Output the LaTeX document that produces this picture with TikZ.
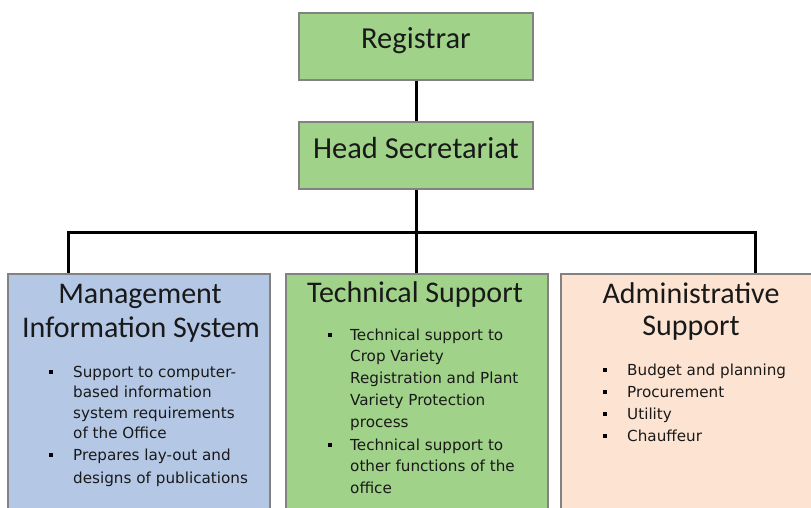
\documentclass[tikz,border=0pt]{standalone}
\usepackage{fontspec}
\newfontfamily\titlefont{Carlito}
\newfontfamily\bodyfont{DejaVu Sans}
\definecolor{boxgreen}{RGB}{160,210,138}
\definecolor{boxblue}{RGB}{180,200,230}
\definecolor{boxpeach}{RGB}{253,228,210}
\definecolor{boxedge}{RGB}{130,130,130}
\definecolor{inktext}{RGB}{25,25,25}
\tikzset{
  orgbox/.style={draw=boxedge, line width=1.3pt, minimum width=234pt, minimum height=67pt, inner sep=0pt},
  unitbox/.style={draw=boxedge, line width=1.3pt, minimum width=262pt, minimum height=250pt, inner sep=0pt},
  ttl/.style={font=\titlefont\fontsize{30}{34}\selectfont, text=inktext, inner sep=0pt, anchor=base},
  itemtext/.style={font=\bodyfont\fontsize{15.2}{21.5}\selectfont, text=inktext, inner sep=0pt, anchor=base west, align=left},
  bul/.style={fill=black, minimum size=4.8pt, inner sep=0pt},
  link/.style={line width=3pt, black}
}
\begin{document}
\begin{tikzpicture}[x=1pt,y=-1pt]
\useasboundingbox (0,0) rectangle (811,508);
\clip (0,0) rectangle (811,508);
\fill[white] (0,0) rectangle (811,508);
% top boxes
\node[orgbox, fill=boxgreen] (reg) at (416,46.5) {};
\node[orgbox, fill=boxgreen] (head) at (416,155.5) {};
\node[ttl, font=\titlefont\fontsize{30.5}{34}\selectfont] (regt) at (416,49) {Registrar};
\node[ttl, font=\titlefont\fontsize{30.5}{34}\selectfont] (headt) at (416,158) {Head Secretariat};
% unit boxes
\node[unitbox, fill=boxblue] (mis) at (139,399) {};
\node[unitbox, fill=boxgreen] (tech) at (417,399) {};
\node[unitbox, fill=boxpeach] (adm) at (692,399) {};
% connectors
\coordinate (busL) at (68,232);
\coordinate (busR) at (755,232);
\coordinate (busM) at (416,232);
\draw[link] (reg) -- (head);
\draw[link] (head) -- (busM);
\draw[link, line cap=rect] (busL) -- (busR);
\draw[link] (busL) -- (busL |- mis.north);
\draw[link] (busR) -- (busR |- adm.north);
\draw[link] (busM) -- (busM |- tech.north);
% MIS
\node[ttl] (mist1) at (140,303) {Management};
\node[ttl] (mist2) at (141,337) {Information System};
\node[bul] (misb1) at (51,372) {};
\node[itemtext, font=\bodyfont\fontsize{15.2}{20.5}\selectfont] (misi1) at (73,438.5) {Support to computer-\\based information\\system requirements\\of the Office};
\node[bul] (misb2) at (51,455) {};
\node[itemtext, font=\bodyfont\fontsize{15.2}{23}\selectfont] (misi2) at (73,483) {Prepares lay-out and\\designs of publications};
% Technical
\node[ttl] (techt) at (415,302) {Technical Support};
\node[bul] (techb1) at (330,335) {};
\node[itemtext, font=\bodyfont\fontsize{15.2}{21.8}\selectfont] (techi1) at (350,427.2) {Technical support to\\Crop Variety\\Registration and Plant\\Variety Protection\\process};
\node[bul] (techb2) at (330,445) {};
\node[itemtext, font=\bodyfont\fontsize{15.2}{21.8}\selectfont] (techi2) at (350,493.6) {Technical support to\\other functions of the\\office};
% Administrative
\node[ttl] (admt1) at (691,303) {Administrative};
\node[ttl] (admt2) at (691,335) {Support};
\node[bul] (admb1) at (605,370) {};
\node[itemtext] (admi1) at (627,375) {Budget and planning};
\node[bul] (admb2) at (605,392) {};
\node[itemtext] (admi2) at (627,397) {Procurement};
\node[bul] (admb3) at (605,414) {};
\node[itemtext] (admi3) at (627,419) {Utility};
\node[bul] (admb4) at (605,436) {};
\node[itemtext] (admi4) at (627,441) {Chauffeur};
\end{tikzpicture}
\end{document}
